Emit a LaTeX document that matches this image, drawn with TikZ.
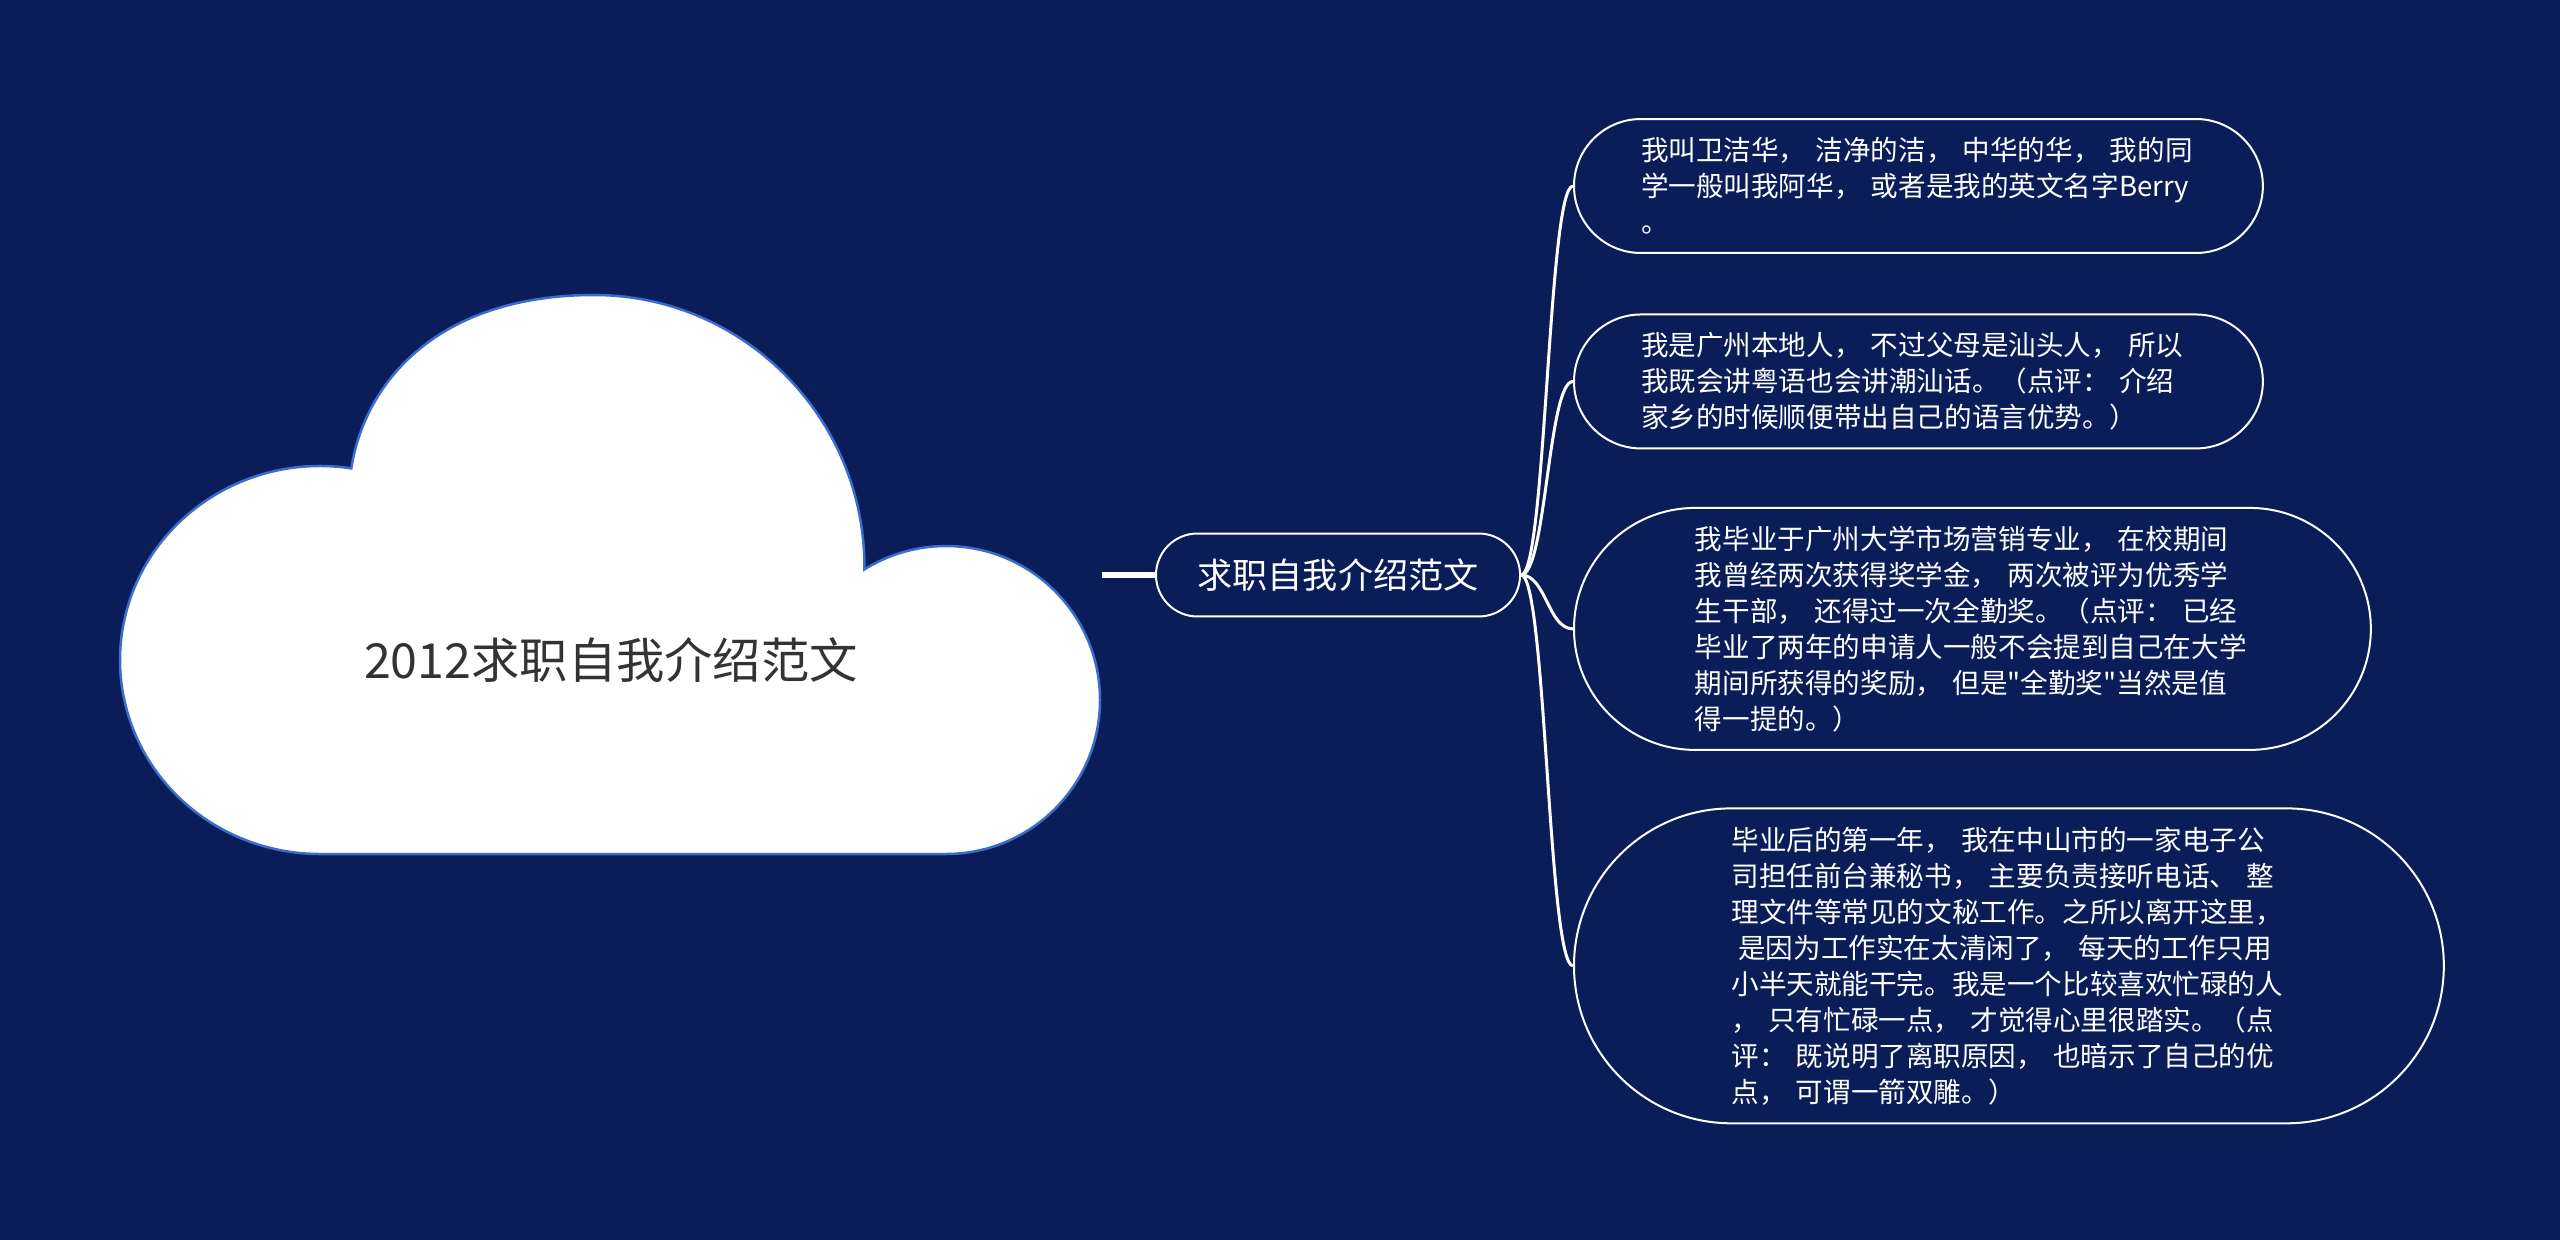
\documentclass[tikz,border=0pt]{standalone}
\usepackage{fontspec}
\usepackage{tikz}
\usetikzlibrary{positioning}
\newfontfamily\cjk{Noto Sans CJK SC}
\definecolor{deepnavy}{RGB}{10,29,88}
\definecolor{cloudrim}{RGB}{58,108,206}
\definecolor{inkgray}{RGB}{51,51,51}
\tikzset{
  leaf/.style={draw=white, line width=0.04cm, text=white, align=left,
    text width=11.1cm, font=\cjk\fontsize{15.7}{20.5}\selectfont,
    inner ysep=0pt, inner xsep=#1, rounded corners=#1, minimum height=2*#1},
  hub/.style={draw=white, line width=0.04cm, text=white,
    font=\cjk\fontsize{20}{24}\selectfont,
    inner xsep=0.83cm, rounded corners=0.83cm, minimum height=1.66cm},
  link/.style={white, line width=0.06cm},
  stem/.style={white, line width=0.12cm}
}

\begin{document}
\begin{tikzpicture}[x=0.02cm, y=-0.02cm]
  \fill[deepnavy] (0,0) rectangle (2560,1240);
  % cloud
  \draw[cloudrim, fill=white, line width=0.05cm]
    (351.3,468.4) arc[start angle=-81, end angle=-270, x radius=200, y radius=194]
    -- (946,854) arc[start angle=90, end angle=-122, radius=154]
    .. controls (866,420) and (745,295) .. (594,295)
    .. controls (440,295) and (365,380) .. (351.3,468.4) -- cycle;
  \node[font=\cjk\fontsize{27.5}{32}\selectfont, text=inkgray] (title) at (611,660) {2012求职自我介绍范文};
  \coordinate (cloudR) at (1102,575);

  \node[hub, right=1.06cm of cloudR] (hub) {求职自我介绍范文};
  \draw[stem] (cloudR) -- (hub);

  \node[leaf=1.34cm, anchor=west] (intro) at (1573,186) {我叫卫洁华， 洁净的洁， 中华的华， 我的同\\学一般叫我阿华， 或者是我的英文名字Berry\\。};
  \node[leaf=1.34cm, below=1.19cm of intro.south west, anchor=north west] (home) {我是广州本地人， 不过父母是汕头人， 所以\\我既会讲粤语也会讲潮汕话。（点评： 介绍\\家乡的时候顺便带出自己的语言优势。）};
  \node[leaf=2.42cm, below=1.15cm of home.south west, anchor=north west] (school) {我毕业于广州大学市场营销专业， 在校期间\\我曾经两次获得奖学金， 两次被评为优秀学\\生干部， 还得过一次全勤奖。（点评： 已经\\毕业了两年的申请人一般不会提到自己在大学\\期间所获得的奖励， 但是"全勤奖"当然是值\\得一提的。）};
  \node[leaf=3.15cm, below=1.13cm of school.south west, anchor=north west] (job) {毕业后的第一年， 我在中山市的一家电子公\\司担任前台兼秘书， 主要负责接听电话、 整\\理文件等常见的文秘工作。之所以离开这里，\\\hspace*{0.25em}是因为工作实在太清闲了， 每天的工作只用\\小半天就能干完。我是一个比较喜欢忙碌的人\\， 只有忙碌一点， 才觉得心里很踏实。（点\\评： 既说明了离职原因， 也暗示了自己的优\\点， 可谓一箭双雕。）};

  \foreach \leafname in {intro,home,school,job}
    \draw[link] (hub.east) .. controls +(25,0) and +(-25,0) .. (\leafname.west);
\end{tikzpicture}
\end{document}
